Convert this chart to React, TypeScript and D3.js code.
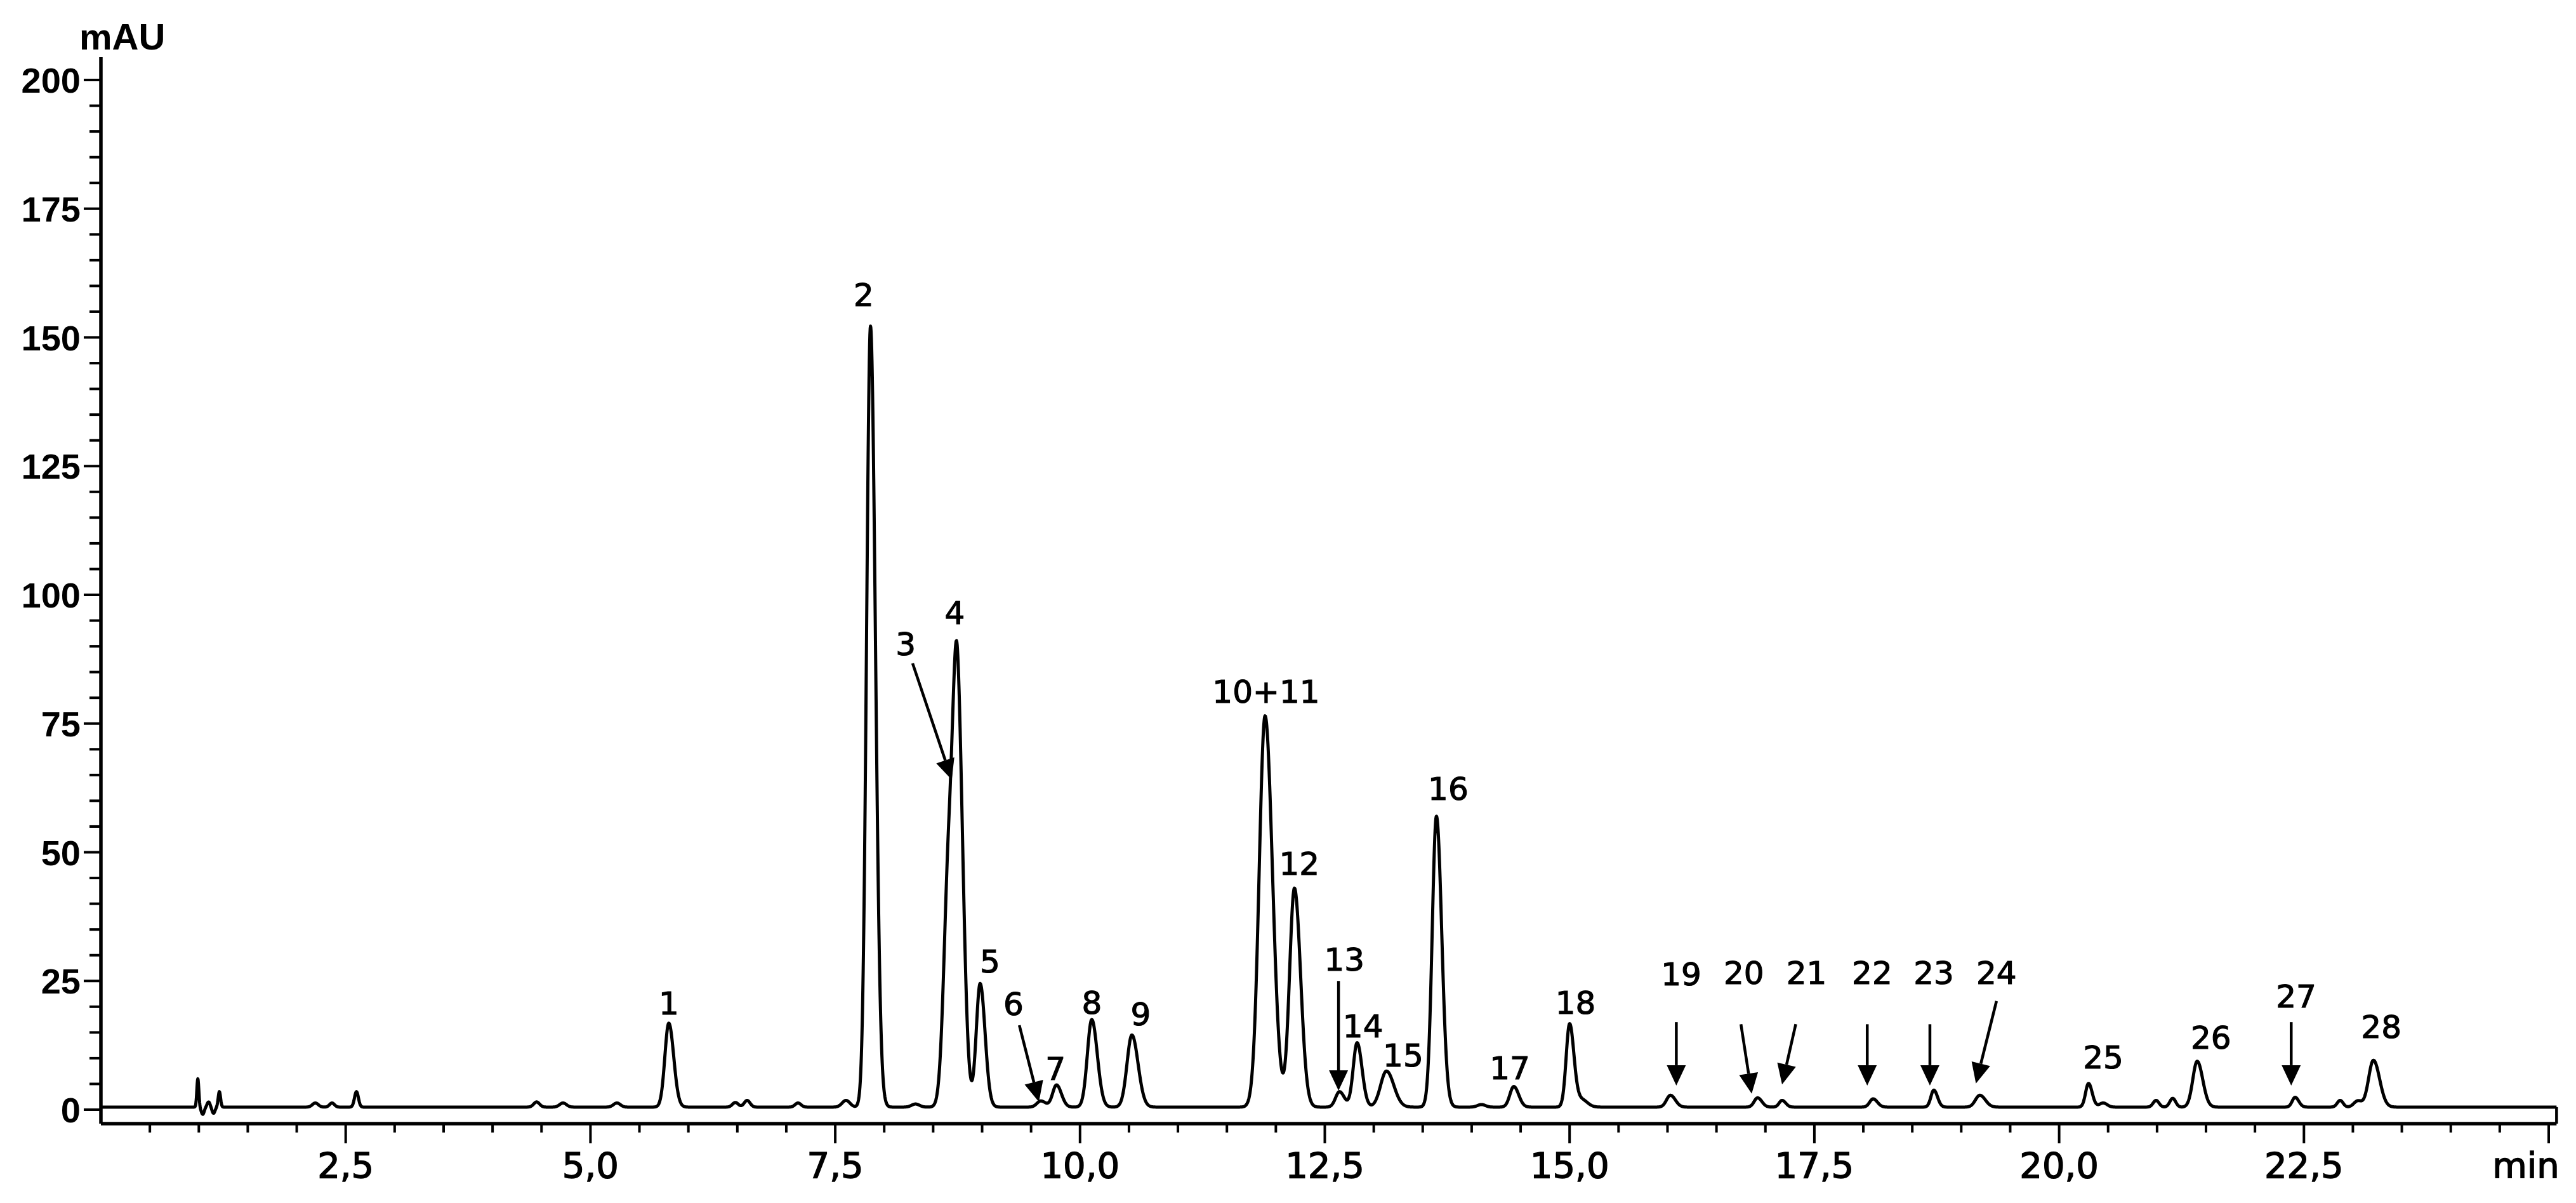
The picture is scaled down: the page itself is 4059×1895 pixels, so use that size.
// HPLC chromatogram, peaks 1-28
import { useEffect, useRef } from 'react';
import * as d3 from 'd3';

const W = 4059;
const H = 1895;

// peaks: retention time (min), height above baseline (mAU), sigma (min)
const peakNames = ['1', '2', '3', '4', '5', '6', '7', '8', '9', '10+11', '12', '13', '14', '15',
  '16', '17', '18', '19', '20', '21', '22', '23', '24', '25', '26', '27', '28'];
const peakTimes = [5.80, 7.86, 8.66, 8.75, 8.98, 9.60, 9.76, 10.12, 10.53, 11.89, 12.19, 12.65, 12.83, 13.13,
  13.64, 14.43, 15.00, 16.03, 16.92, 17.17, 18.10, 18.72, 19.19, 20.30, 21.41, 22.41, 23.21];
const peakHeights = [16.3, 151.7, 46, 72, 24, 1.2, 4.3, 17, 14, 76, 42.5, 3, 12.5, 7,
  56.5, 4, 16, 2.3, 1.8, 1.3, 1.6, 3.3, 2.3, 4.6, 8.9, 1.9, 9.1];
const peakWidths = [0.04, 0.04, 0.05, 0.045, 0.04, 0.04, 0.04, 0.045, 0.05, 0.06, 0.05, 0.04, 0.04, 0.06,
  0.043, 0.04, 0.035, 0.04, 0.035, 0.03, 0.035, 0.03, 0.045, 0.03, 0.045, 0.03, 0.05];

// where each number sits (time, mAU of text baseline)
const labelTimes = [5.80, 7.79, 8.22, 8.72, 9.08, 9.32, 9.75, 10.12, 10.62, 11.90, 12.24, 12.70, 12.89, 13.30,
  13.76, 14.39, 15.06, 16.14, 16.78, 17.42, 18.09, 18.72, 19.36, 20.45, 21.55, 22.42, 23.29];
const labelLevels = [18.5, 156.1, 88.3, 94.3, 26.6, 18.4, 5.8, 18.6, 16.4, 79.0, 45.6, 27.0, 14.1, 8.4,
  60.2, 5.9, 18.6, 24.2, 24.4, 24.4, 24.4, 24.4, 24.4, 8.0, 11.8, 19.9, 13.9];

// small unlabelled bumps of the baseline
const bumpTimes = [0.99, 1.04, 1.10, 1.15, 1.21, 2.19, 2.36, 2.61, 4.45, 4.72, 5.27, 6.48, 6.60, 7.12, 7.61,
  8.32, 14.10, 15.12, 20.45, 20.99, 21.16, 22.87, 23.05];
const bumpHeights = [5.5, -1.4, 1.0, -1.2, 3.0, 0.8, 0.8, 3.0, 1.0, 0.8, 0.8, 0.9, 1.3, 0.8, 1.3,
  0.6, 0.5, 1.5, 0.8, 1.3, 1.7, 1.3, 1.2];
const bumpWidths = [0.01, 0.015, 0.015, 0.015, 0.012, 0.03, 0.025, 0.02, 0.03, 0.035, 0.035, 0.03, 0.03, 0.03, 0.04,
  0.04, 0.04, 0.06, 0.04, 0.03, 0.03, 0.03, 0.04];

// arrows pointing at the small peaks
const arrowFromT = [8.29, 9.38, 12.64, 16.09, 16.75, 17.31, 18.04, 18.68, 19.36, 22.37];
const arrowFromV = [86.7, 16.4, 25.0, 17.0, 16.6, 16.6, 16.6, 16.6, 21.1, 17.0];
const arrowToT = [8.69, 9.58, 12.64, 16.09, 16.86, 17.17, 18.04, 18.68, 19.15, 22.37];
const arrowToV = [64.1, 1.5, 3.7, 4.7, 3.1, 4.9, 4.7, 4.7, 5.1, 4.7];

const xMajor = [2.5, 5, 7.5, 10, 12.5, 15, 17.5, 20, 22.5, 25];
const xLabels = ['2,5', '5,0', '7,5', '10,0', '12,5', '15,0', '17,5', '20,0', '22,5'];
const yMajor = [0, 25, 50, 75, 100, 125, 150, 175, 200];

const baseLevel = 0.5;
const tail = 1.25;
const tEnd = 25.08;

const useD3 = (renderFn, deps) => {
  const ref = useRef(null);
  useEffect(() => {
    renderFn(d3.select(ref.current));
  }, deps);
  return ref;
};

function Chromatogram() {
  const ref = useD3((svg) => {
    svg.selectAll('*').remove();

    const x = d3.scaleLinear().domain([0, 25]).range([159, 4016]);
    const y = d3.scaleLinear().domain([0, 200]).range([1748, 126]);
    const axisY = 1770;

    // trace
    const signal = (t) => {
      let v = baseLevel;
      peakTimes.forEach((p, i) => {
        const s = t > p ? peakWidths[i] * tail : peakWidths[i];
        v += peakHeights[i] * Math.exp(-((t - p) ** 2) / (2 * s * s));
      });
      bumpTimes.forEach((p, i) => {
        const s = bumpWidths[i];
        v += bumpHeights[i] * Math.exp(-((t - p) ** 2) / (2 * s * s));
      });
      return v;
    };
    const pts = d3.range(0, tEnd + 1e-9, 0.003).map((t) => [t, signal(t)]);
    const line = d3.line().x((d) => x(d[0])).y((d) => y(d[1]));
    svg.append('path')
      .attr('d', line(pts))
      .attr('fill', 'none')
      .attr('stroke', '#000')
      .attr('stroke-width', 5)
      .attr('stroke-linejoin', 'round');
    const last = pts[pts.length - 1];
    svg.append('line')
      .attr('x1', x(last[0])).attr('x2', x(last[0]))
      .attr('y1', y(last[1])).attr('y2', axisY)
      .attr('stroke', '#000').attr('stroke-width', 4.5);

    // x axis
    const gx = svg.append('g').attr('transform', `translate(0,${axisY})`);
    gx.append('line')
      .attr('x1', x(0)).attr('x2', x(tEnd))
      .attr('stroke', '#000').attr('stroke-width', 5.5);
    const xMinor = d3.range(0.5, 25.01, 0.5).filter((v) => Math.abs(v / 2.5 - Math.round(v / 2.5)) > 1e-6);
    gx.selectAll('.xminor').data(xMinor).join('line')
      .attr('x1', (d) => x(d)).attr('x2', (d) => x(d))
      .attr('y1', 0).attr('y2', 14)
      .attr('stroke', '#000').attr('stroke-width', 4);
    gx.selectAll('.xmajor').data(xMajor).join('line')
      .attr('x1', (d) => x(d)).attr('x2', (d) => x(d))
      .attr('y1', 0).attr('y2', 31)
      .attr('stroke', '#000').attr('stroke-width', 4);
    gx.selectAll('.xlab').data(xLabels).join('text')
      .attr('x', (d, i) => x(xMajor[i]))
      .attr('y', 85)
      .attr('text-anchor', 'middle')
      .attr('font-family', 'DejaVu Sans')
      .attr('font-size', 56)
      .attr('stroke', '#000').attr('stroke-width', 1.5)
      .text((d) => d);
    gx.append('text')
      .attr('x', 3980).attr('y', 85)
      .attr('text-anchor', 'middle')
      .attr('font-family', 'DejaVu Sans')
      .attr('font-size', 56)
      .attr('stroke', '#000').attr('stroke-width', 1.5)
      .text('min');

    // y axis
    const gy = svg.append('g').attr('transform', `translate(${x(0)},0)`);
    gy.append('line')
      .attr('y1', 90).attr('y2', axisY)
      .attr('stroke', '#000').attr('stroke-width', 5.5);
    const yMinor = d3.range(5, 201, 5).filter((v) => v % 25 !== 0);
    gy.selectAll('.yminor').data(yMinor).join('line')
      .attr('x1', -18).attr('x2', 0)
      .attr('y1', (d) => y(d)).attr('y2', (d) => y(d))
      .attr('stroke', '#000').attr('stroke-width', 4);
    gy.selectAll('.ymajor').data(yMajor).join('line')
      .attr('x1', -27).attr('x2', 0)
      .attr('y1', (d) => y(d)).attr('y2', (d) => y(d))
      .attr('stroke', '#000').attr('stroke-width', 4);
    gy.selectAll('.ylab').data(yMajor).join('text')
      .attr('x', -32)
      .attr('y', (d) => y(d))
      .attr('dy', '0.36em')
      .attr('text-anchor', 'end')
      .attr('font-family', 'Liberation Sans')
      .attr('font-weight', 'bold')
      .attr('font-size', 56)
      .text((d) => d);
    svg.append('text')
      .attr('x', 125).attr('y', 78)
      .attr('font-family', 'Liberation Sans')
      .attr('font-weight', 'bold')
      .attr('font-size', 58)
      .text('mAU');

    // arrows
    arrowFromT.forEach((t0, i) => {
      const x0 = x(t0), y0 = y(arrowFromV[i]);
      const x1 = x(arrowToT[i]), y1 = y(arrowToV[i]);
      const len = Math.hypot(x1 - x0, y1 - y0);
      const ux = (x1 - x0) / len, uy = (y1 - y0) / len;
      const hl = 32, hw = 15;
      const bx = x1 - ux * hl, by = y1 - uy * hl;
      svg.append('line')
        .attr('x1', x0).attr('y1', y0).attr('x2', bx).attr('y2', by)
        .attr('stroke', '#000').attr('stroke-width', 4.5);
      svg.append('path')
        .attr('d', `M${x1},${y1}L${bx - uy * hw},${by + ux * hw}L${bx + uy * hw},${by - ux * hw}Z`)
        .attr('fill', '#000');
    });

    // peak numbers
    svg.selectAll('.plab').data(peakNames).join('text')
      .attr('x', (d, i) => x(labelTimes[i]))
      .attr('y', (d, i) => y(labelLevels[i]))
      .attr('text-anchor', 'middle')
      .attr('font-family', 'DejaVu Sans')
      .attr('font-size', 50)
      .attr('stroke', '#000').attr('stroke-width', 1.2)
      .text((d) => d);
  }, []);

  return (
    <svg ref={ref} width={W} height={H}
      style={{ position: 'absolute', left: 0, top: 0, background: '#fff' }} />
  );
}

export default function App() {
  return <Chromatogram />;
}
